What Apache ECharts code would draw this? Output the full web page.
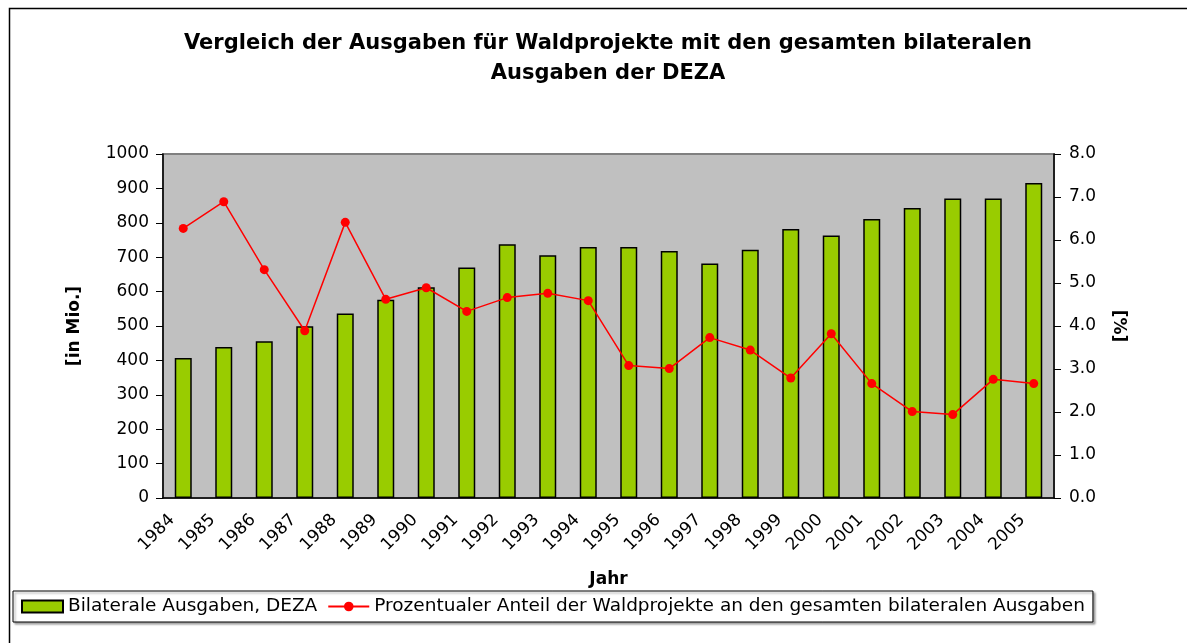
<!DOCTYPE html>
<html>
<head>
<meta charset="utf-8">
<script src="https://cdn.jsdelivr.net/npm/echarts@6/dist/echarts.min.js"></script>
<style>
html, body { margin: 0; padding: 0; background: #fff; }
#chart { width: 1187px; height: 643px; }
</style>
</head>
<body>
<div id="chart"></div>
<script>
var years = ['1984','1985','1986','1987','1988','1989','1990','1991','1992','1993','1994',
             '1995','1996','1997','1998','1999','2000','2001','2002','2003','2004','2005'];
var ausgaben = [407, 439, 456, 499, 536, 576, 613, 670, 738, 706, 730,
                730, 718, 682, 722, 782, 763, 811, 843, 871, 871, 916];
var anteil = [6.27, 6.89, 5.31, 3.89, 6.41, 4.62, 4.89, 4.34, 4.66, 4.76, 4.59,
              3.08, 3.01, 3.73, 3.44, 2.79, 3.82, 2.66, 2.01, 1.94, 2.76, 2.66];
var seriesNames = ['Bilaterale Ausgaben, DEZA',
                   'Prozentualer Anteil der Waldprojekte an den gesamten bilateralen Ausgaben'];

var font = 'DejaVu Sans';
var myChart = echarts.init(document.getElementById('chart'));
option = {
    backgroundColor: '#fff',
    animation: false,
    title: {
        text: 'Vergleich der Ausgaben für Waldprojekte mit den gesamten bilateralen\nAusgaben der DEZA',
        left: 603,
        textAlign: 'center',
        top: 24,
        textStyle: {
            fontFamily: font,
            fontSize: 21,
            fontWeight: 'bold',
            color: '#000',
            lineHeight: 30
        }
    },
    graphic: [{
        type: 'rect',
        left: 7, top: 6,
        shape: { width: 1200, height: 700 },
        style: { fill: 'none', stroke: '#000', lineWidth: 1.5 },
        silent: true
    }],
    legend: {
        left: 13,
        top: 591,
        padding: [6, 8, 6, 8],
        itemGap: 10,
        itemWidth: 41,
        itemHeight: 12,
        borderColor: '#000',
        borderWidth: 1,
        backgroundColor: '#fff',
        shadowColor: 'rgba(0,0,0,0.35)',
        shadowOffsetX: 2,
        shadowOffsetY: 2,
        shadowBlur: 2,
        textStyle: { fontFamily: font, fontSize: 18.5, color: '#000' },
        data: [{ name: seriesNames[0], icon: 'rect' }, { name: seriesNames[1] }]
    },
    grid: {
        left: 163,
        right: 133,
        top: 154,
        bottom: 145,
        show: true,
        backgroundColor: '#c0c0c0',
        borderColor: '#808080',
        borderWidth: 2
    },
    xAxis: {
        type: 'category',
        data: years,
        name: 'Jahr',
        nameLocation: 'middle',
        nameGap: 73,
        nameTextStyle: { fontFamily: font, fontSize: 17, fontWeight: 'bold', color: '#000' },
        axisLine: { lineStyle: { color: '#000', width: 1.5 } },
        axisTick: { length: 7, lineStyle: { color: '#000' } },
        axisLabel: {
            rotate: 45,
            interval: 0,
            margin: 8,
            padding: [0, 16, 0, 0],
            fontFamily: font,
            fontSize: 17,
            color: '#000'
        }
    },
    yAxis: [{
        type: 'value',
        min: 0,
        max: 1000,
        interval: 100,
        name: '[in Mio.]',
        nameLocation: 'middle',
        nameGap: 80,
        nameRotate: 90,
        nameTextStyle: { fontFamily: font, fontSize: 17, fontWeight: 'bold', color: '#000' },
        axisLine: { show: true, lineStyle: { color: '#000', width: 1.5 } },
        axisTick: { show: true, length: 7, lineStyle: { color: '#000' } },
        axisLabel: {
            margin: 14,
            fontFamily: font,
            fontSize: 17,
            color: '#000',
            formatter: function (v) { return String(v); }
        },
        splitLine: { show: false }
    }, {
        type: 'value',
        min: 0,
        max: 8,
        interval: 1,
        name: '[%]',
        nameLocation: 'middle',
        nameGap: 56,
        nameRotate: -90,
        nameTextStyle: { fontFamily: font, fontSize: 17, fontWeight: 'bold', color: '#000' },
        axisLine: { show: true, lineStyle: { color: '#000', width: 1.5 } },
        axisTick: { show: true, length: 7, lineStyle: { color: '#000' } },
        axisLabel: {
            margin: 15,
            fontFamily: font,
            fontSize: 17,
            color: '#000',
            formatter: function (v) { return v.toFixed(1); }
        },
        splitLine: { show: false }
    }],
    series: [{
        name: seriesNames[0],
        type: 'bar',
        yAxisIndex: 0,
        barWidth: 17,
        itemStyle: { color: '#99cc00', borderColor: '#000', borderWidth: 1.5 },
        data: ausgaben
    }, {
        name: seriesNames[1],
        type: 'line',
        yAxisIndex: 1,
        symbol: 'circle',
        symbolSize: 9,
        lineStyle: { color: '#ff0000', width: 1.5 },
        itemStyle: { color: '#ff0000' },
        data: anteil
    }]
};
myChart.setOption(option);
</script>
</body>
</html>
